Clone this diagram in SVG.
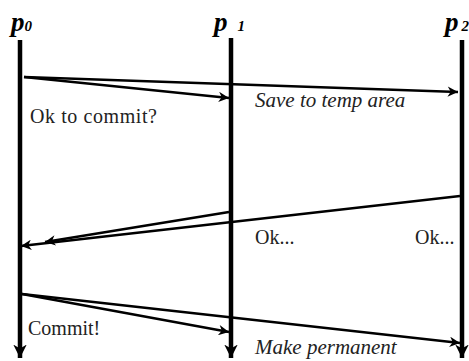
<svg xmlns="http://www.w3.org/2000/svg" width="469" height="361" viewBox="0 0 469 361">
<defs>
<marker id="ah" viewBox="0 0 10 10" refX="10" refY="5" markerWidth="4.5" markerHeight="4" orient="auto" markerUnits="strokeWidth">
<path d="M0,0 L10,5 L0,10 L3,5 Z" fill="#000"/>
</marker>
<marker id="ahd" viewBox="0 0 10 10" refX="10" refY="5" markerWidth="3" markerHeight="3" orient="auto" markerUnits="strokeWidth">
<path d="M0,0 L10,5 L0,10 L3,5 Z" fill="#000"/>
</marker>
</defs>
<style>
.life{stroke:#000;stroke-width:4.5;fill:none}
.msg{stroke:#000;stroke-width:2.6;fill:none}
.hd{font-family:'Liberation Serif','DejaVu Serif',serif;font-weight:bold;font-style:italic;fill:#000}
.lb{font-family:'Liberation Serif','DejaVu Serif',serif;font-size:20px;fill:#222}
.it{font-style:italic;font-size:21px}
</style>
<rect width="469" height="361" fill="#fff"/>
<g id="p0">
<text class="hd" x="11" y="31" font-size="27">p<tspan font-size="15">0</tspan></text>
<line class="life" x1="20" y1="40" x2="20" y2="358" marker-end="url(#ahd)"/>
</g>
<g id="p1">
<text class="hd" x="214" y="31" font-size="27">p<tspan font-size="15" dx="10">1</tspan></text>
<line class="life" x1="231" y1="38" x2="231" y2="358" marker-end="url(#ahd)"/>
</g>
<g id="p2">
<text class="hd" x="445" y="31" font-size="27">p<tspan font-size="15" dx="3">2</tspan></text>
<line class="life" x1="462" y1="40" x2="462" y2="358" marker-end="url(#ahd)"/>
</g>
<g id="connectors">
<line class="msg" x1="24" y1="77" x2="229" y2="98" marker-end="url(#ah)"/>
<line class="msg" x1="24" y1="77" x2="458" y2="92" marker-end="url(#ah)"/>
<line class="msg" x1="460" y1="196" x2="21" y2="246" marker-end="url(#ah)"/>
<line class="msg" x1="229" y1="212" x2="45" y2="242" marker-end="url(#ah)"/>
<line class="msg" x1="22" y1="294" x2="229" y2="332" marker-end="url(#ah)"/>
<line class="msg" x1="22" y1="294" x2="460" y2="343" marker-end="url(#ah)"/>
</g>
<g id="labels">
<text class="lb" x="30" y="123" textLength="127">Ok to commit?</text>
<text class="lb it" x="255" y="107">Save to temp area</text>
<text class="lb" x="255" y="244">Ok...</text>
<text class="lb" x="415" y="244">Ok...</text>
<text class="lb" x="28" y="335">Commit!</text>
<text class="lb it" x="255" y="354">Make permanent</text>
</g>
</svg>
